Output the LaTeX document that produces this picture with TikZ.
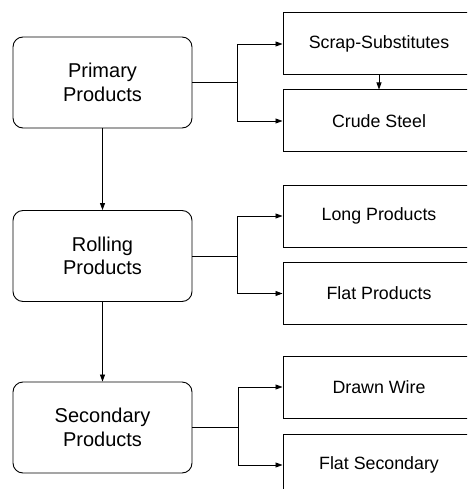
\documentclass[tikz,border=0pt]{standalone}
\usepackage{fontspec}
\setmainfont{Liberation Sans}
\usetikzlibrary{arrows.meta}
\begin{document}
\begin{tikzpicture}[x=1pt,y=-1pt,
  mainbox/.style={draw, line width=0.9pt, rounded corners=10pt, minimum width=179pt, minimum height=91pt, align=center, font=\fontsize{20}{23.5}\selectfont, inner sep=0pt},
  subbox/.style={draw, line width=1pt, minimum width=192pt, minimum height=62pt, align=center, font=\fontsize{17.8}{20}\selectfont, inner sep=0pt},
  conn/.style={line width=0.8pt},
  arr/.style={conn, -{Triangle[length=7pt,width=5pt]}}]
\useasboundingbox (0,0) rectangle (467,489);
\clip (0,0) rectangle (467,489);
\node[mainbox] (prim) at (102.5,82.5) {Primary\\Products};
\node[mainbox] (roll) at (102.5,256) {Rolling\\Products};
\node[mainbox] (sec) at (102.5,427.5) {Secondary\\Products};
\node[subbox] (scrap) at (379,44) {Scrap-Substitutes};
\node[subbox] (crude) at (379,121) {Crude Steel};
\node[subbox] (long) at (379,216) {Long Products};
\node[subbox] (flat) at (379,293.5) {Flat Products};
\node[subbox] (drawn) at (379,387) {Drawn Wire};
\node[subbox] (flatsec) at (379,465) {Flat Secondary};
\coordinate (j1) at (237,82.5);
\coordinate (j2) at (237,256);
\coordinate (j3) at (238,427.5);
\draw[conn] (prim.east) -- (j1);
\draw[arr] (j1) |- (scrap.west);
\draw[arr] (j1) |- (crude.west);
\draw[conn] (roll.east) -- (j2);
\draw[arr] (j2) |- (long.west);
\draw[arr] (j2) |- (flat.west);
\draw[conn] (sec.east) -- (j3);
\draw[arr] (j3) |- (drawn.west);
\draw[arr] (j3) |- (flatsec.west);
\draw[arr] (scrap.south) -- (crude.north);
\draw[arr] (prim.south) -- (roll.north);
\draw[arr] (roll.south) -- (sec.north);
\end{tikzpicture}
\end{document}
